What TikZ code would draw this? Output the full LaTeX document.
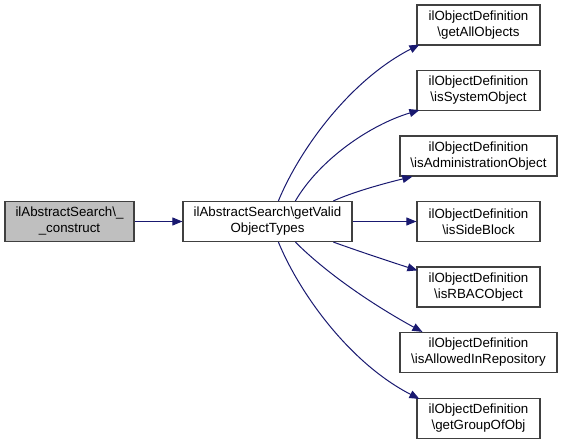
\documentclass[tikz,border=0pt]{standalone}
\usepackage{fontspec}
\setmainfont{Liberation Sans}
\usetikzlibrary{arrows.meta}
\definecolor{edgeblue}{HTML}{191970}
\definecolor{boxline}{HTML}{404040}
\definecolor{boxfill}{HTML}{BFBFBF}
\begin{document}
\begin{tikzpicture}[x=1pt,y=-1pt,
  box/.style={draw=boxline,line width=1.2pt,fill=white,align=center,inner sep=0pt,
    minimum height=40pt,font=\fontsize{13.3}{16}\selectfont},
  nbox/.style={box,minimum width=123pt},
  wbox/.style={box,minimum width=157pt},
  edge/.style={draw=edgeblue,line width=1pt,-{Triangle[length=10pt,width=8pt]}}]
\useasboundingbox (0,0) rectangle (563,444);
\node[box,fill=boxfill,minimum width=129pt] (n1) at (69.5,221.5) {ilAbstractSearch\textbackslash\_\\\_construct};
\node[box,minimum width=169pt] (n2) at (267.5,221.5) {ilAbstractSearch\textbackslash getValid\\ObjectTypes};
\node[nbox] (a1) at (478.5,25) {ilObjectDefinition\\\textbackslash getAllObjects};
\node[nbox] (a2) at (478.5,90.5) {ilObjectDefinition\\\textbackslash isSystemObject};
\node[wbox] (a3) at (478.5,156) {ilObjectDefinition\\\textbackslash isAdministrationObject};
\node[nbox] (a4) at (478.5,221.5) {ilObjectDefinition\\\textbackslash isSideBlock};
\node[nbox] (a5) at (478.5,287) {ilObjectDefinition\\\textbackslash isRBACObject};
\node[wbox] (a6) at (478.5,352.5) {ilObjectDefinition\\\textbackslash isAllowedInRepository};
\node[nbox] (a7) at (478.5,418.5) {ilObjectDefinition\\\textbackslash getGroupOfObj};
\draw[edge] (n1.east) -- (n2.west);
\draw[edge] ([xshift=96pt]n2.north west) .. controls +(21,-51) and +(-70,36) .. ([xshift=3pt,yshift=1pt]a1.south west);
\draw[edge] ([xshift=113pt]n2.north west) .. controls +(24,-41) and +(-50,15) .. ([xshift=3pt,yshift=1pt]a2.south west);
\draw[edge] ([xshift=151pt]n2.north west) .. controls +(20,-9) and +(-29,7) .. ([xshift=13pt]a3.south west);
\draw[edge] (n2.east) -- (a4.west);
\draw[edge] ([xshift=151pt]n2.south west) .. controls +(25,9) and +(-28,-9) .. ([xshift=1pt,yshift=-4pt]a5.north west);
\draw[edge] ([xshift=113pt]n2.south west) .. controls +(34,34) and +(-44,-24) .. ([xshift=23pt]a6.north west);
\draw[edge] ([xshift=96pt]n2.south west) .. controls +(21,51) and +(-70,-36) .. ([xshift=3pt,yshift=-1pt]a7.north west);
\end{tikzpicture}
\end{document}
